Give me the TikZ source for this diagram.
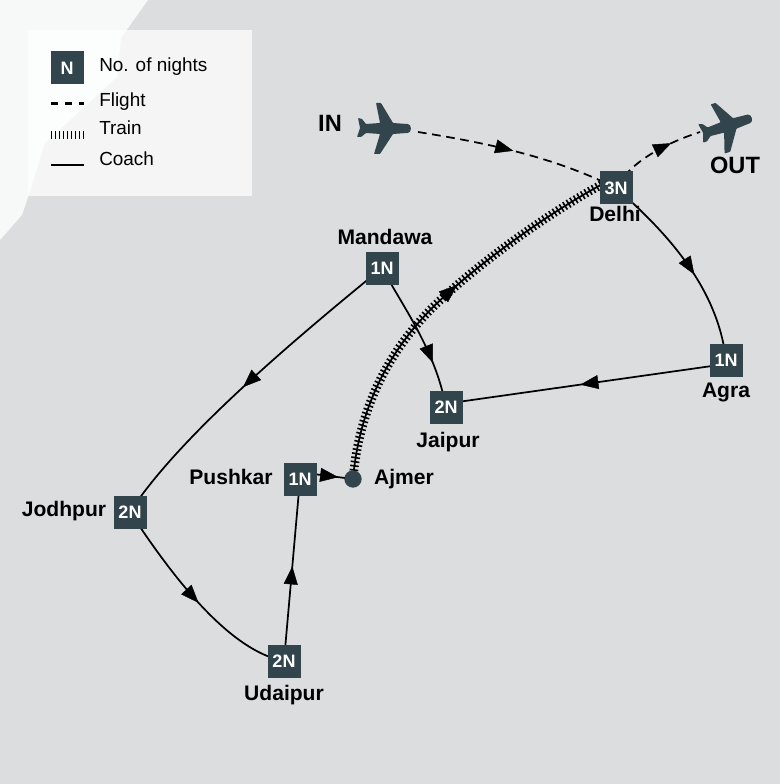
\documentclass[tikz,border=0pt]{standalone}
\usepackage{fontspec}
\setmainfont{Liberation Sans}
\usetikzlibrary{arrows.meta,decorations.markings}
\pgfdeclarelayer{bg}\pgfdeclarelayer{conn}
\pgfsetlayers{bg,conn,main}
\definecolor{slate}{HTML}{32444C}
\definecolor{sea}{HTML}{DCDDDF}
\definecolor{land}{HTML}{F7F8F8}
\tikzset{
  x=0.75pt,y=-0.75pt,
  stay/.style={draw=none,fill=slate,minimum size=24.75pt,inner sep=0pt,text=white,font=\bfseries\fontsize{13.5}{14}\selectfont},
  place/.style={anchor=base,inner sep=0pt,text=black,font=\bfseries\fontsize{15.8}{17}\selectfont},
  big/.style={anchor=base,inner sep=0pt,text=black,font=\bfseries\fontsize{17.7}{19}\selectfont},
  legtext/.style={anchor=base west,inner sep=0pt,text=black,font=\fontsize{14.2}{16}\selectfont},
  coach/.style={draw=black,line width=1.3pt},
  flight/.style={draw=black,line width=1.3pt,dash pattern=on 6.5pt off 4.2pt},
  train/.style={draw=black,line width=6.6pt,dash pattern=on 1.2pt off 1.9pt},
  tipat/.style={postaction={decorate,decoration={markings,mark=at position #1 with {\pgfsetlinewidth{0.3pt}\pgfsetdash{}{0pt}\arrow{Triangle[length=13.5pt,width=10.5pt]}}}}},
  plane/.pic={\fill[slate,rounded corners=0.5pt] (26,-5) .. controls (31,-5) and (31,4) .. (26,4) -- (12,5) -- (-1,25) -- (-7,25) -- (-1,5) -- (-15,4) -- (-20,8) -- (-24,8) -- (-21,-1) -- (-23,-11) -- (-19,-10) -- (-15,-5) -- (-1,-6) -- (-5,-26) -- (0,-26) -- (12,-6) -- cycle;}
}
\begin{document}
\begin{tikzpicture}
\useasboundingbox (0,0) rectangle (780,784);
\begin{pgfonlayer}{bg}
\fill[sea] (0,0) rectangle (780,784);
\fill[land] (0,0) -- (148,0) -- (121,38) -- (117,77) -- (45,143) -- (28,197) -- (22,215) -- (0,240) -- cycle;
\fill[white,fill opacity=0.72] (28,30) rectangle (252,196);
\end{pgfonlayer}
% planes
\pic at (381,129) {plane};
\pic[rotate=18] at (723.5,127.6) {plane};
% nodes
\node[stay] (delhi) at (616,188) {3N};
\node[stay] (mandawa) at (382,268) {1N};
\node[stay] (agra) at (726,360) {1N};
\node[stay] (jaipur) at (446,407) {2N};
\node[stay] (pushkar) at (300,479) {1N};
\node[stay] (jodhpur) at (130,512) {2N};
\node[stay] (udaipur) at (284,661) {2N};
\node[circle,fill=slate,minimum size=13pt,inner sep=0pt] (ajmer) at (353,479) {};
\node[stay,font=\bfseries\fontsize{13.5}{14}\selectfont] (legN) at (67,68) {N};
% labels
\node[place] (tDelhi) at (615,222) {Delhi};
\node[place] (tMandawa) at (385,244) {Mandawa};
\node[place] (tAgra) at (726,397) {Agra};
\node[place] (tJaipur) at (448,447) {Jaipur};
\node[place] (tPushkar) at (231,484) {Pushkar};
\node[place] (tAjmer) at (404,484) {Ajmer};
\node[place] (tJodhpur) at (64,516) {Jodhpur};
\node[place] (tUdaipur) at (284,700) {Udaipur};
\node[big] (tIn) at (330,132) {IN};
\node[big] (tOut) at (735,174) {OUT};
\node[legtext] (l1) at (99,72) {No. of nights};
\node[legtext] (l2) at (99,107) {Flight};
\node[legtext] (l3) at (99,135) {Train};
\node[legtext] (l4) at (99,166) {Coach};
% free ends
\coordinate (inEnd) at (418,132);
\coordinate (outEnd) at (700,132);
\coordinate (delhiTop) at (616,177);
\coordinate (f1) at (51,103.5); \coordinate (f2) at (84,103.5);
\coordinate (t1) at (51,135); \coordinate (t2) at (84,135);
\coordinate (c1) at (51,165.5); \coordinate (c2) at (84,165.5);
\begin{pgfonlayer}{conn}
\draw[flight,tipat=0.47] (inEnd) .. controls (480,142) and (550,155) .. (delhi.center);
\draw[flight,tipat=0.7] (delhi.center) .. controls (628,165) and (660,145) .. (outEnd);
\draw[coach,tipat=0.56] (delhi.center) .. controls (670,235) and (718,290) .. (agra.center);
\draw[coach,tipat=0.52] ([yshift=-3pt]agra.center) -- ([yshift=2.5pt]jaipur.center);
\draw[coach,tipat=0.7] (mandawa.center) .. controls (405,310) and (435,350) .. (jaipur.center);
\draw[coach,tipat=0.52] (mandawa.center) .. controls (300,335) and (180,435) .. (jodhpur.center);
\draw[coach,tipat=0.52] (jodhpur.center) .. controls (165,565) and (225,650) .. (udaipur.center);
\draw[coach,tipat=0.52] (udaipur.center) -- (pushkar.center);
\draw[coach,tipat=0.72] ([yshift=5pt]pushkar.center) -- (ajmer.center);
\draw[train] (ajmer.center) .. controls (360,400) and (395,340) .. (447,294) .. controls (490,255) and (560,205) .. (delhiTop);
\path[coach,tipat=0.54] (ajmer.center) .. controls (360,400) and (395,340) .. (447,294) .. controls (490,255) and (560,205) .. (delhiTop);
\end{pgfonlayer}
\draw[flight,line width=1.6pt,dash pattern=on 5.6pt off 4.9pt] (f1) -- (f2);
\draw[draw=black,line width=6pt,dash pattern=on 1.1pt off 1.9pt] (t1) -- (t2);
\draw[coach,line width=1.5pt] (c1) -- (c2);
\end{tikzpicture}
\end{document}
